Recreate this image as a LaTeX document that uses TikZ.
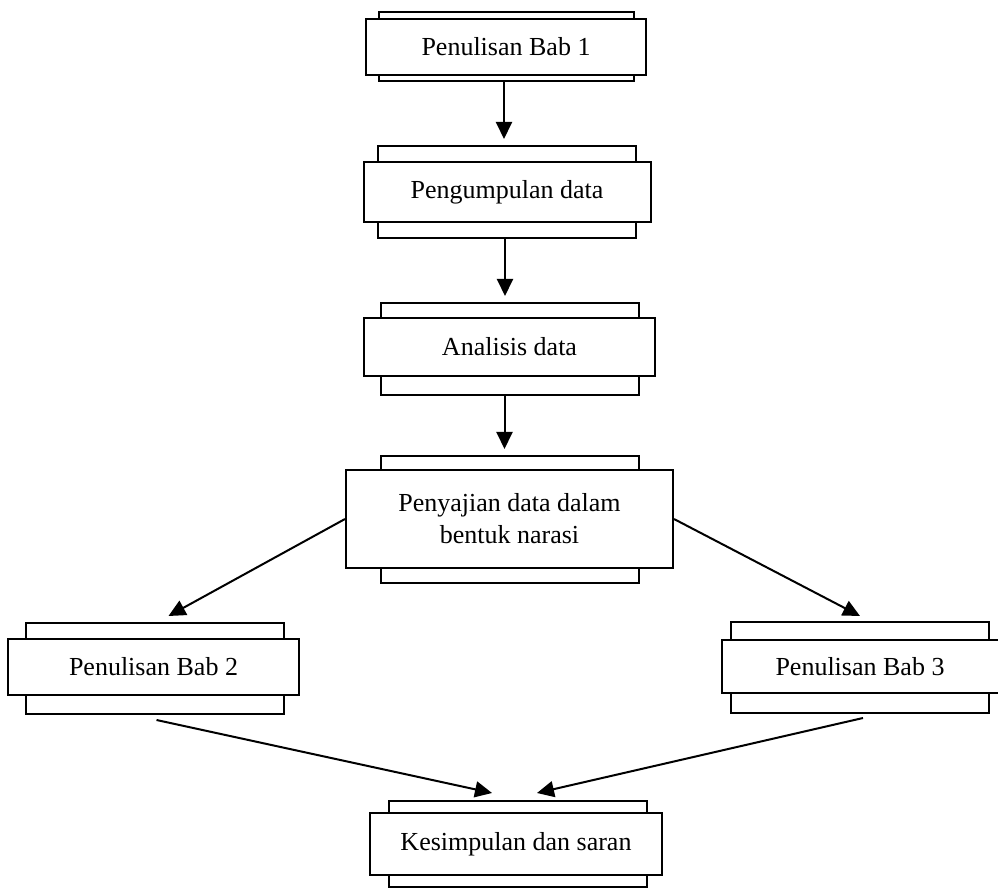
\documentclass[tikz,border=0pt]{standalone}
\usepackage{fontspec}
\setmainfont{Liberation Serif}
\usetikzlibrary{arrows.meta}

\begin{document}
\begin{tikzpicture}[x=0.5pt, y=0.5pt, line width=1pt,
  belakang/.style={draw, minimum width=129pt, inner sep=0pt},
  depan/.style={draw, fill=white, inner sep=0pt, align=center,
    font=\fontsize{13}{16}\selectfont},
  panah/.style={-{Triangle[length=8.5pt,width=8pt]}, shorten >=3pt}]

  \useasboundingbox (0,0) rectangle (998,-888);

  % kotak-kotak
  \node[belakang, minimum width=127.5pt, minimum height=34.5pt] (bab1b) at (506,-47) {};
  \node[depan, minimum width=140pt, minimum height=28pt] (bab1) at (506,-47) {Penulisan Bab 1};

  \node[belakang, minimum height=46pt] (kumpulb) at (507,-192) {};
  \node[depan, minimum width=143.5pt, minimum height=30pt] (kumpul) at (507,-192) {Pengumpulan data};

  \node[belakang, minimum height=46pt] (analisisb) at (509.5,-349) {};
  \node[depan, minimum width=145.5pt, minimum height=29pt] (analisis) at (509.5,-347) {Analisis data};

  \node[belakang, minimum height=63.5pt] (sajib) at (510,-519.5) {};
  \node[depan, minimum width=163.5pt, minimum height=49pt] (saji) at (509.5,-519) {Penyajian data dalam\\bentuk narasi};

  \node[belakang, minimum height=45.5pt] (bab2b) at (154.5,-668.5) {};
  \node[depan, minimum width=145.5pt, minimum height=28pt] (bab2) at (153.5,-667) {Penulisan Bab 2};

  \node[belakang, minimum height=45.5pt] (bab3b) at (860,-667.5) {};
  \node[depan, minimum width=138.5pt, minimum height=26.5pt] (bab3) at (860,-666.5) {Penulisan Bab 3};

  \node[belakang, minimum height=43pt] (simpulb) at (518,-844) {};
  \node[depan, minimum width=146pt, minimum height=31pt] (simpul) at (516,-844) {Kesimpulan dan saran};

  % panah
  \draw[panah] ([xshift=-1pt]bab1b.south) -- ([xshift=-1pt]bab1b.south |- kumpulb.north); %% bab1->kumpul
  \draw[panah] ([xshift=-1pt]kumpulb.south) -- ([xshift=-1pt]kumpulb.south |- analisisb.north); %% kumpul->analisis
  \draw[panah] ([xshift=-2.5pt]analisisb.south) -- ([xshift=-2.5pt]analisisb.south |- sajib.north); %% analisis->saji

  \draw[panah, shorten >=0pt] (saji.west) -- ([xshift=7pt,yshift=3pt]bab2b.north); %% saji->bab2
  \draw[panah, shorten >=0pt] (saji.east) -- ([yshift=2.5pt]bab3b.north); %% saji->bab3

  \draw[panah, shorten >=0pt] ([xshift=1pt,yshift=-2.5pt]bab2b.south) -- ([xshift=-13pt,yshift=3.5pt]simpulb.north); %% bab2->simpul
  \draw[panah, shorten >=0pt] ([xshift=1.5pt,yshift=-2pt]bab3b.south) -- ([xshift=9.5pt,yshift=3.5pt]simpulb.north); %% bab3->simpul

\end{tikzpicture}
\end{document}
